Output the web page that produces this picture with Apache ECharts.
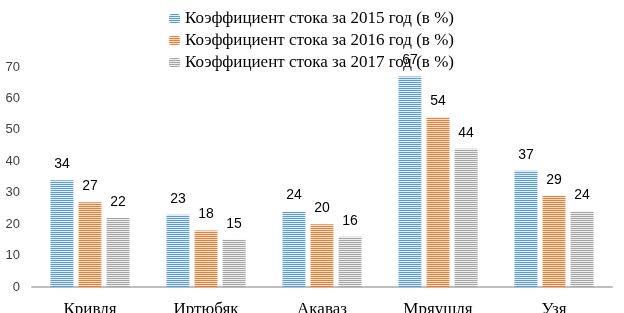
<!DOCTYPE html>
<html>
<head>
<meta charset="utf-8">
<script src="https://cdn.jsdelivr.net/npm/echarts@6/dist/echarts.min.js"></script>
<style>
  html, body { margin: 0; padding: 0; background: #fff; }
  #chart { width: 624px; height: 313px; }
</style>
</head>
<body>
<div id="chart"></div>
<script>
const categories = ['Кривля', 'Иртюбяк', 'Акаваз', 'Мряушля', 'Узя'];
const seriesNames = [
  'Коэффициент стока за 2015 год (в %)',
  'Коэффициент стока за 2016 год (в %)',
  'Коэффициент стока за 2017 год (в %)',
];
const values2015 = [34, 23, 24, 67, 37];
const values2016 = [27, 18, 20, 54, 29];
const values2017 = [22, 15, 16, 44, 24];
const yTicks = [0, 10, 20, 30, 40, 50, 60, 70];

// striped fill like the original (1px colour, 1px pale)
function stripes(color, pale) {
  const c = document.createElement('canvas');
  c.width = 4;
  c.height = 2;
  const ctx = c.getContext('2d');
  ctx.fillStyle = pale;
  ctx.fillRect(0, 0, 4, 2);
  ctx.fillStyle = color;
  ctx.fillRect(0, 0, 4, 1);
  return { image: c, repeat: 'repeat' };
}

const fills = [
  stripes('#5b9bd5', '#e4eff9'),
  stripes('#ed7d31', '#fbe3d3'),
  stripes('#a5a5a5', '#ededed'),
];
const allValues = [values2015, values2016, values2017];

const chart = echarts.init(document.getElementById('chart'));
chart.setOption({
  animation: false,
  grid: { left: 32, right: 12, top: 67, bottom: 26, containLabel: false, outerBoundsMode: 'none' },
  legend: {
    orient: 'vertical',
    left: 164,
    top: 5,
    itemWidth: 11,
    itemHeight: 9,
    itemGap: 5,
    textStyle: { fontFamily: 'Liberation Serif', fontSize: 17, color: '#000' },
    data: seriesNames,
  },
  xAxis: {
    type: 'category',
    data: categories,
    axisLine: { lineStyle: { color: '#bfbfbf', width: 2 } },
    axisTick: { show: false },
    axisLabel: { fontFamily: 'Liberation Serif', fontSize: 17, color: '#000', margin: 14 },
  },
  yAxis: {
    type: 'value',
    min: yTicks[0],
    max: yTicks[yTicks.length - 1],
    interval: 10,
    axisLine: { show: false },
    axisTick: { show: false },
    splitLine: { show: false },
    axisLabel: { fontFamily: 'Liberation Sans', fontSize: 13, color: '#404040', margin: 12 },
  },
  series: seriesNames.map((name, i) => ({
    name,
    type: 'bar',
    data: allValues[i],
    barWidth: 23,
    barGap: '22%',
    itemStyle: { color: fills[i] },
    label: {
      show: true,
      position: 'top',
      distance: 9,
      fontFamily: 'Liberation Sans',
      fontSize: 14,
      color: '#000',
    },
  })),
});
</script>
</body>
</html>
